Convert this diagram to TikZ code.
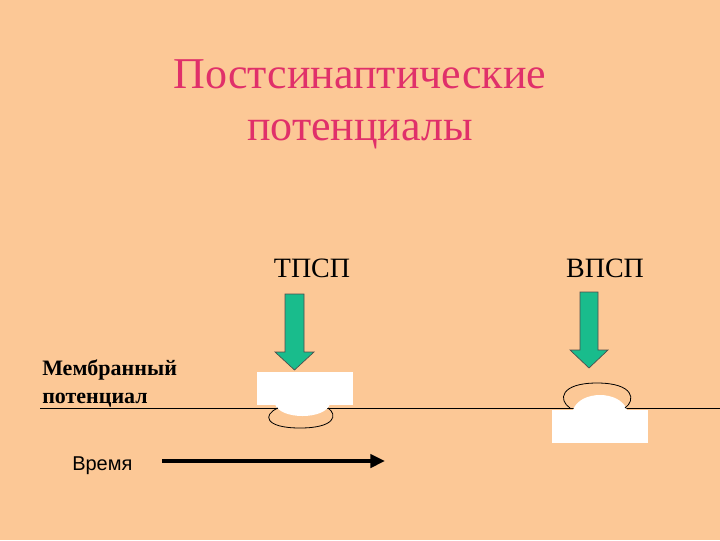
\documentclass[tikz,border=0pt]{standalone}
\usepackage{fontspec}
\setmainfont{Liberation Serif}
\newfontfamily\arialf{Liberation Sans}
\usetikzlibrary{arrows.meta}
\definecolor{bg}{HTML}{FCC896}
\definecolor{tit}{HTML}{E0306A}
\definecolor{grn}{HTML}{19BC8C}
\begin{document}
\begin{tikzpicture}[x=0.75pt,y=-0.75pt,
  bigarrow/.style={fill=grn,draw=black!70,line width=0.5pt},
  lab/.style={font=\fontsize{21}{25}\selectfont},
  side/.style={font=\arialf\fontsize{15}{18}\selectfont}]
\fill[bg] (0,0) rectangle (720,540);
\useasboundingbox (0,0) rectangle (720,540);
\node[text=tit,align=center,font=\fontsize{33}{39}\selectfont] (title) at (360,104) {Постсинаптические\\потенциалы};
\node[lab] (t) at (312,268) {ТПСП};
\node[lab] (v) at (605,268) {ВПСП};
\node[align=left,font=\bfseries\fontsize{16.5}{21}\selectfont,anchor=west,inner sep=0pt] (mp) at (42,384) {Мембранный\\потенциал};
\node[side,anchor=west,inner sep=0pt] (time) at (72,466) {Время};
% membrane line
\draw[line width=0.6pt] (40,408) -- (720,408);
% left IPSP
\fill[white] (257,372) rectangle (353,405);
\fill[white] (275,404) .. controls (280,420) and (325,420) .. (330,404) -- cycle;
\draw[line width=0.6pt] (278,408) .. controls (262,415) and (265,428) .. (300,428) .. controls (335,428) and (338,415) .. (328,408);
% right EPSP
\fill[white] (552,410) rectangle (648,443);
\fill[white] (573,410) .. controls (580,390) and (620,390) .. (627,410) -- cycle;
\draw[line width=0.6pt] (570,408) .. controls (558,400) and (560,383) .. (597,383) .. controls (634,383) and (636,400) .. (625,408);
% green arrows
\draw[bigarrow] (285,294) -- (304,294) -- (304,352) -- (314,352) -- (294.5,370) -- (275,352) -- (285,352) -- cycle;
\draw[bigarrow] (580,292) -- (598,292) -- (598,350) -- (608,350) -- (589,368) -- (570,350) -- (580,350) -- cycle;
% time arrow
\coordinate (ts) at (162,461);
\coordinate (te) at (385,461);
\draw[line width=2.6pt,-{Triangle[length=11pt,width=10pt]}] (ts) -- (te);
\end{tikzpicture}
\end{document}
